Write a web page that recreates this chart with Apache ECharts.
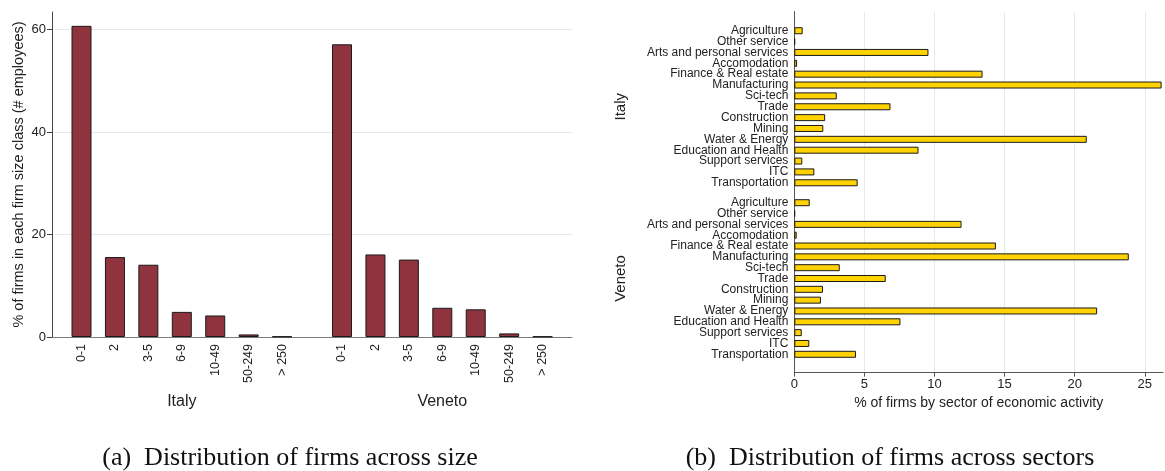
<!DOCTYPE html>
<html>
<head>
<meta charset="utf-8">
<script src="https://cdn.jsdelivr.net/npm/echarts@6/dist/echarts.min.js"></script>
<style>
  html, body { margin: 0; padding: 0; background: #fff; }
  #chart { width: 1165px; height: 471px; }
</style>
</head>
<body>
<div id="chart"></div>
<script>
// Firm size classes (# employees)
const sizeClasses = ['0-1', '2', '3-5', '6-9', '10-49', '50-249', '> 250'];
const italySize = [60.7, 15.6, 14.1, 4.9, 4.2, 0.5, 0.1];
const venetoSize = [57.1, 16.1, 15.1, 5.7, 5.4, 0.7, 0.1];
const sizeTicks = [0, 20, 40, 60];

// Sectors of economic activity
const sectors = ['Agriculture', 'Other service', 'Arts and personal services', 'Accomodation',
  'Finance & Real estate', 'Manufacturing', 'Sci-tech', 'Trade', 'Construction', 'Mining',
  'Water & Energy', 'Education and Health', 'Support services', 'ITC', 'Transportation'];
const italySector = [0.6, 0.05, 9.57, 0.2, 13.43, 26.2, 3.03, 6.86, 2.2, 2.07, 20.86, 8.86, 0.57, 1.43, 4.52];
const venetoSector = [1.1, 0.05, 11.93, 0.17, 14.38, 23.86, 3.24, 6.52, 2.05, 1.9, 21.6, 7.57, 0.53, 1.07, 4.4];
const sectorTicks = [0, 5, 10, 15, 20, 25];

const regions = ['Italy', 'Veneto'];
const captions = ['(a)  Distribution of firms across size', '(b)  Distribution of firms across sectors'];

const SANS = 'Liberation Sans, Arial, sans-serif';
const TXT = '#222';
const GRID_LINE = '#e0ebeb';
const SIZE_MAX = 63.4;
const SECTOR_MAX = 26.3;

const hidden = { show: false };

const sizeBarStyle = { color: '#8f343e', borderColor: '#1a1a1a', borderWidth: 1 };
const sectorBarStyle = { color: '#ffd200', borderColor: '#1a1a1a', borderWidth: 1 };

const sectorLabel = { fontSize: 12, color: TXT, margin: 6, fontFamily: SANS, interval: 0 };
const sizeLabel = { rotate: 90, fontSize: 12.5, color: TXT, margin: 7, fontFamily: SANS, interval: 0 };

const option = {
  animation: false,
  backgroundColor: '#fff',
  textStyle: { fontFamily: SANS, color: TXT },
  grid: [
    // (a) frame with value axis
    { left: 52, top: 12, width: 520, height: 325 },
    // (a) Italy bars
    { left: 64.8, top: 12, width: 234, height: 325 },
    // (a) Veneto bars
    { left: 325.3, top: 12, width: 234, height: 325 },
    // (b) frame with value axis
    { left: 794.3, top: 11.7, width: 368.7, height: 361 },
    // (b) Italy sectors
    { left: 794.3, top: 25.3, width: 368.7, height: 162.9 },
    // (b) Veneto sectors
    { left: 794.3, top: 197.3, width: 368.7, height: 162.4 }
  ],
  xAxis: [
    {
      gridIndex: 0, type: 'value', min: 0, max: 1,
      axisLine: { show: true, lineStyle: { color: '#7a7a7a', width: 1 } },
      axisTick: hidden, axisLabel: hidden, splitLine: hidden
    },
    {
      gridIndex: 1, type: 'category', data: sizeClasses,
      axisLine: hidden, axisTick: hidden, axisLabel: sizeLabel,
      name: regions[0], nameLocation: 'middle', nameGap: 57,
      nameTextStyle: { fontSize: 16, color: TXT, fontFamily: SANS }
    },
    {
      gridIndex: 2, type: 'category', data: sizeClasses,
      axisLine: hidden, axisTick: hidden, axisLabel: sizeLabel,
      name: regions[1], nameLocation: 'middle', nameGap: 57,
      nameTextStyle: { fontSize: 16, color: TXT, fontFamily: SANS }
    },
    {
      gridIndex: 3, type: 'value', min: 0, max: SECTOR_MAX,
      axisLine: { show: true, lineStyle: { color: '#555', width: 1 } },
      axisTick: { show: true, length: 4, customValues: sectorTicks, lineStyle: { color: '#555' } },
      axisLabel: { customValues: sectorTicks, fontSize: 13, color: TXT, margin: 5, fontFamily: SANS },
      splitLine: { show: true, lineStyle: { color: GRID_LINE, width: 1 } },
      name: '% of firms by sector of economic activity', nameLocation: 'middle', nameGap: 23,
      nameTextStyle: { fontSize: 14, color: TXT, fontFamily: SANS }
    },
    { gridIndex: 4, type: 'value', min: 0, max: SECTOR_MAX, show: false },
    { gridIndex: 5, type: 'value', min: 0, max: SECTOR_MAX, show: false }
  ],
  yAxis: [
    {
      gridIndex: 0, type: 'value', min: 0, max: SIZE_MAX,
      axisLine: { show: true, lineStyle: { color: '#444', width: 1 } },
      axisTick: { show: true, length: 5, customValues: sizeTicks, lineStyle: { color: '#444' } },
      axisLabel: { customValues: sizeTicks, fontSize: 13, color: TXT, margin: 6, fontFamily: SANS },
      splitLine: { show: true, lineStyle: { color: GRID_LINE, width: 1 } },
      name: '% of firms in each firm size class (# employees)', nameLocation: 'middle', nameGap: 26,
      nameTextStyle: { fontSize: 14.5, color: TXT, fontFamily: SANS }
    },
    { gridIndex: 1, type: 'value', min: 0, max: SIZE_MAX, show: false },
    { gridIndex: 2, type: 'value', min: 0, max: SIZE_MAX, show: false },
    {
      gridIndex: 3, type: 'value', min: 0, max: 1,
      axisLine: { show: true, lineStyle: { color: '#555', width: 1 } },
      axisTick: hidden, axisLabel: hidden, splitLine: hidden
    },
    {
      gridIndex: 4, type: 'category', data: sectors, inverse: true,
      axisLine: hidden, axisTick: hidden, axisLabel: sectorLabel,
      name: regions[0], nameLocation: 'middle', nameGap: 166, nameRotate: 90,
      nameTextStyle: { fontSize: 15, color: TXT, fontFamily: SANS }
    },
    {
      gridIndex: 5, type: 'category', data: sectors, inverse: true,
      axisLine: hidden, axisTick: hidden, axisLabel: sectorLabel,
      name: regions[1], nameLocation: 'middle', nameGap: 166, nameRotate: 90,
      nameTextStyle: { fontSize: 15, color: TXT, fontFamily: SANS }
    }
  ],
  series: [
    { type: 'bar', name: regions[0], xAxisIndex: 1, yAxisIndex: 1, data: italySize, barWidth: 20, itemStyle: sizeBarStyle },
    { type: 'bar', name: regions[1], xAxisIndex: 2, yAxisIndex: 2, data: venetoSize, barWidth: 20, itemStyle: sizeBarStyle },
    { type: 'bar', name: regions[0], xAxisIndex: 4, yAxisIndex: 4, data: italySector, barWidth: 7, itemStyle: sectorBarStyle },
    { type: 'bar', name: regions[1], xAxisIndex: 5, yAxisIndex: 5, data: venetoSector, barWidth: 7, itemStyle: sectorBarStyle }
  ],
  graphic: [
    {
      type: 'text', x: 290, y: 458,
      style: { text: captions[0], font: '26px "Liberation Serif", serif', fill: '#111', textAlign: 'center', textVerticalAlign: 'middle' }
    },
    {
      type: 'text', x: 890, y: 458,
      style: { text: captions[1], font: '26px "Liberation Serif", serif', fill: '#111', textAlign: 'center', textVerticalAlign: 'middle' }
    }
  ]
};

const chart = echarts.init(document.getElementById('chart'), null, { renderer: 'canvas' });
chart.setOption(option);
</script>
</body>
</html>
